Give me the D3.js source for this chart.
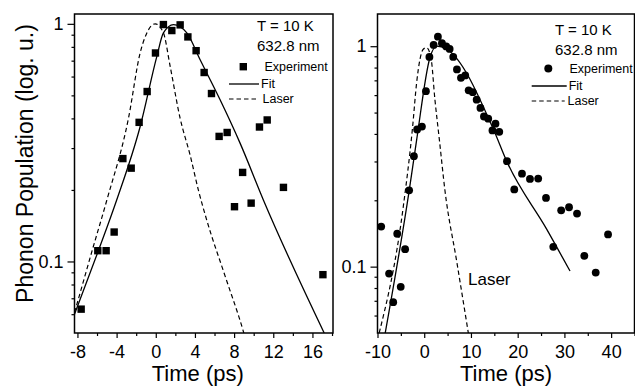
<!DOCTYPE html>
<html>
<head>
<meta charset="utf-8">
<script src="https://cdn.jsdelivr.net/npm/d3@7"></script>
<style>
body{margin:0;background:#fff;}
svg{display:block;font-family:"Liberation Sans",Arial,sans-serif;}
</style>
</head>
<body>
<svg width="635" height="388"></svg>
<script>
// left panel: measured points (squares)
var leftTime = [-7.62, -5.92, -5.07, -4.25, -3.36, -2.51, -1.70, -0.88, -0.03, 0.78, 1.64, 2.49, 3.28, 4.12, 4.94, 5.69, 6.47, 7.29, 8.04, 8.87, 9.74, 10.59, 11.38, 13.04, 17.07];
var leftPop  = [0.063, 0.111, 0.111, 0.133, 0.271, 0.247, 0.385, 0.519, 0.754, 0.993, 0.937, 0.990, 0.881, 0.771, 0.624, 0.509, 0.336, 0.349, 0.170, 0.237, 0.176, 0.368, 0.394, 0.205, 0.088];
// left panel: fit and laser curves
var leftFitTime = [-8.3, -5.86, -4.0, -1.6, 0.11, 0.78, 1.81, 3.17, 4.53, 6.57, 8.62, 11.0, 17.2];
var leftFitPop  = [0.060, 0.111, 0.181, 0.369, 0.730, 0.916, 0.993, 0.916, 0.706, 0.479, 0.314, 0.181, 0.050];
var leftLaserTime = [-8.3, -8.06, -6.5, -5.0, -2.79, -1.6, -0.91, -0.06, 0.78, 1.47, 2.49, 3.51, 4.36, 5.22, 7.09, 8.96, 9.05];
var leftLaserPop  = [0.061, 0.066, 0.111, 0.181, 0.400, 0.753, 0.916, 1.0, 0.916, 0.662, 0.400, 0.280, 0.199, 0.1486, 0.0866, 0.0505, 0.049];

// right panel: measured points (circles)
var rightTime = [-9.21, -7.52, -6.64, -5.78, -5.03, -4.09, -3.23, -2.21, -1.52, -0.49, 0.36, 1.11, 2.01, 2.93, 3.79, 4.71, 5.44, 6.21, 7.0, 7.86, 8.78, 9.51, 10.39, 11.22, 12.03, 12.78, 13.70, 14.60, 15.25, 16.06, 17.71, 19.27, 20.92, 22.63, 24.39, 26.06, 27.62, 29.31, 30.99, 32.7, 34.26, 36.7, 39.34];
var rightPop  = [0.152, 0.093, 0.069, 0.141, 0.081, 0.120, 0.222, 0.317, 0.419, 0.432, 0.625, 0.894, 1.013, 1.105, 1.032, 0.998, 0.972, 0.894, 0.785, 0.719, 0.737, 0.631, 0.619, 0.572, 0.525, 0.480, 0.469, 0.415, 0.445, 0.409, 0.301, 0.224, 0.264, 0.250, 0.251, 0.205, 0.123, 0.180, 0.186, 0.174, 0.112, 0.094, 0.140];
var rightFitTime = [-8.42, -3.21, -1.63, 1.22, 2.66, 4.8, 14.78, 17.64, 26.2, 31.2];
var rightFitPop  = [0.049, 0.222, 0.375, 0.887, 1.0, 0.969, 0.421, 0.301, 0.148, 0.0955];
var rightLaserTime = [-9.64, -4.5, -2.48, -1.63, -0.21, 0.5, 1.43, 2.29, 3.25, 4.43, 6.94, 9.46];
var rightLaserPop  = [0.050, 0.186, 0.432, 0.682, 0.969, 0.985, 0.891, 0.572, 0.375, 0.222, 0.106, 0.0497];

// axis ticks
var leftXTicks = [-8, -4, 0, 4, 8, 12, 16];
var leftXMinor = [-6, -2, 2, 6, 10, 14, 18];
var rightXTicks = [-10, 0, 10, 20, 30, 40];
var rightXMinor = [-5, 5, 15, 25, 35, 45];
var yTicks = [1, 0.1];
var yTickLabels = ["1", "0.1"];
var yMinor = [0.06, 0.07, 0.08, 0.09, 0.2, 0.3, 0.4, 0.5, 0.6, 0.7, 0.8, 0.9];

function main(){
    var svg = d3.select("svg");

    function drawPanel(p){
        var x = d3.scaleLinear().domain(p.xDomain).range([p.left, p.right]);
        var y = d3.scaleLog().domain(p.yDomain).range([p.bottom, p.top]);
        var g = svg.append("g");

        // clip for the curves
        g.append("clipPath").attr("id", p.id + "clip")
            .append("rect")
            .attr("x", p.left).attr("y", p.top)
            .attr("width", p.right - p.left).attr("height", p.bottom - p.top);

        // x axis, major + minor
        var xa = g.append("g").attr("transform", "translate(0," + p.bottom + ")")
            .call(d3.axisBottom(x).tickValues(p.xTicks).tickSize(5).tickPadding(7)
                .tickFormat(function(d){ return String(d); }));
        g.append("g").attr("transform", "translate(0," + p.bottom + ")")
            .call(d3.axisBottom(x).tickValues(p.xMinor.filter(function(d){ return d <= p.xDomain[1]; }))
                .tickSize(3).tickFormat(""));
        // y axis, major + minor
        var ya = g.append("g").attr("transform", "translate(" + p.left + ",0)")
            .call(d3.axisLeft(y).tickValues(yTicks).tickSize(7).tickPadding(4)
                .tickFormat(function(d, i){ return yTickLabels[i]; }));
        g.append("g").attr("transform", "translate(" + p.left + ",0)")
            .call(d3.axisLeft(y).tickValues(yMinor).tickSize(3).tickFormat(""));

        g.selectAll(".domain").remove();
        g.selectAll(".tick line").attr("stroke", "#000").attr("stroke-width", 1.2);
        xa.selectAll("text").attr("font-size", "18px").attr("font-family", "Liberation Sans, Arial, sans-serif").attr("fill", "#000");
        ya.selectAll("text").attr("font-size", "18px").attr("font-family", "Liberation Sans, Arial, sans-serif").attr("fill", "#000");

        // frame
        g.append("rect")
            .attr("x", p.left).attr("y", p.top)
            .attr("width", p.right - p.left).attr("height", p.bottom - p.top)
            .attr("fill", "none").attr("stroke", "#000").attr("stroke-width", 1.5);

        var line = d3.line()
            .x(function(d){ return x(d[0]); })
            .y(function(d){ return y(d[1]); })
            .curve(d3.curveMonotoneX);

        // laser (dashed) and fit (solid)
        g.append("path").datum(d3.zip(p.laserTime, p.laserPop))
            .attr("clip-path", "url(#" + p.id + "clip)")
            .attr("d", line).attr("fill", "none").attr("stroke", "#000")
            .attr("stroke-width", 1.2).attr("stroke-dasharray", "4.5,3");
        g.append("path").datum(d3.zip(p.fitTime, p.fitPop))
            .attr("clip-path", "url(#" + p.id + "clip)")
            .attr("d", line).attr("fill", "none").attr("stroke", "#000")
            .attr("stroke-width", 1.3);

        // experiment points
        var pts = d3.zip(p.time, p.pop);
        if (p.marker === "square"){
            g.selectAll(".pt").data(pts).enter().append("rect")
                .attr("class", "pt")
                .attr("x", function(d){ return x(d[0]) - 3.7; })
                .attr("y", function(d){ return y(d[1]) - 3.7; })
                .attr("width", 7.4).attr("height", 7.4).attr("fill", "#000");
        } else {
            g.selectAll(".pt").data(pts).enter().append("circle")
                .attr("class", "pt")
                .attr("cx", function(d){ return x(d[0]); })
                .attr("cy", function(d){ return y(d[1]); })
                .attr("r", 3.9).attr("fill", "#000");
        }

        // x title
        g.append("text")
            .attr("x", (p.left + p.right) / 2 + p.titleShift).attr("y", 381)
            .attr("text-anchor", "middle").attr("font-size", "22px")
            .text("Time (ps)");

        // legend block
        var L = p.legend;
        g.append("text").attr("x", L.tx).attr("y", L.ty).attr("font-size", "15px").text("T = 10 K");
        g.append("text").attr("x", L.tx).attr("y", L.ty + 19.5).attr("font-size", "15px").text("632.8 nm");
        if (p.marker === "square"){
            g.append("rect").attr("x", L.mx - 3.7).attr("y", L.my - 3.7).attr("width", 7.4).attr("height", 7.4).attr("fill", "#000");
        } else {
            g.append("circle").attr("cx", L.mx).attr("cy", L.my).attr("r", 4).attr("fill", "#000");
        }
        g.append("text").attr("x", L.ex).attr("y", L.my + 4).attr("font-size", "12.5px").text("Experiment");
        g.append("line").attr("x1", L.lx1).attr("x2", L.lx2).attr("y1", L.fy).attr("y2", L.fy)
            .attr("stroke", "#000").attr("stroke-width", 1.3);
        g.append("text").attr("x", L.lx2 + 2).attr("y", L.fy + 3.5).attr("font-size", "12.5px").text("Fit");
        g.append("line").attr("x1", L.lx1).attr("x2", L.lx2 - 2).attr("y1", L.fy + 15).attr("y2", L.fy + 15)
            .attr("stroke", "#000").attr("stroke-width", 1.2).attr("stroke-dasharray", "4.5,3");
        g.append("text").attr("x", L.ex - 2).attr("y", L.fy + 18.5).attr("font-size", "12.5px").text("Laser");
        return g;
    }

    drawPanel({
        id: "left", left: 74.5, right: 333, top: 14, bottom: 333,
        xDomain: [-8.3, 18.1], yDomain: [0.05, 1.1],
        xTicks: leftXTicks, xMinor: leftXMinor,
        time: leftTime, pop: leftPop,
        fitTime: leftFitTime, fitPop: leftFitPop,
        laserTime: leftLaserTime, laserPop: leftLaserPop,
        marker: "square", titleShift: -6,
        legend: {tx: 257, ty: 31, mx: 243.3, my: 66.7, ex: 264.5, lx1: 229, lx2: 259, fy: 84}
    });

    var right = drawPanel({
        id: "right", left: 377.5, right: 634.5, top: 14, bottom: 333,
        xDomain: [-10, 45], yDomain: [0.05, 1.4],
        xTicks: rightXTicks, xMinor: rightXMinor,
        time: rightTime, pop: rightPop,
        fitTime: rightFitTime, fitPop: rightFitPop,
        laserTime: rightLaserTime, laserPop: rightLaserPop,
        marker: "circle", titleShift: 0,
        legend: {tx: 555, ty: 35, mx: 548.3, my: 68.5, ex: 569.5, lx1: 531.7, lx2: 566.7, fy: 86}
    });

    // annotation next to the laser curve
    right.append("text").attr("x", 468).attr("y", 285).attr("font-size", "17px").text("Laser");

    // shared y title
    svg.append("text")
        .attr("transform", "translate(32.5,163.5) rotate(-90)")
        .attr("text-anchor", "middle").attr("font-size", "23px")
        .text("Phonon Population (log. u.)");
}
main();
</script>
</body>
</html>
